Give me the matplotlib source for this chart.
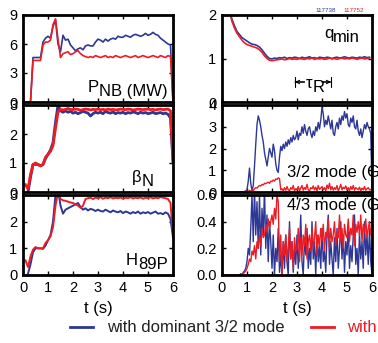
import numpy as np
import matplotlib
matplotlib.use('Agg')
import matplotlib.pyplot as plt

plt.rcParams['font.family'] = ['Liberation Sans', 'DejaVu Sans']

BLUE = '#2d3795'
RED = '#ed1c24'
nan = np.nan

# slow signals, 0.1 s steps from 0 to 6 s
t_slow = np.round(np.arange(61) * 0.1, 2)
# mode amplitudes, 0.05 s steps
t_fast = np.round(np.arange(121) * 0.05, 3)

pnb_blue = [0, 0, 0, 0, 4.6, 4.6, 4.6, 4.6, 6.2, 6.6,
            6.8, 6.6, 7.8, 8.5, 6.0, 5.2, 6.9, 6.4, 6.5, 5.9,
            5.6, 5.3, 5.5, 5.6, 5.4, 5.8, 5.9, 5.8, 5.8, 6.2,
            6.5, 6.4, 6.2, 6.5, 6.3, 6.5, 6.6, 6.5, 6.8, 6.7,
            6.7, 6.9, 6.8, 6.7, 6.9, 7.0, 6.9, 6.8, 6.9, 7.1,
            6.9, 7.0, 7.2, 7.0, 6.9, 6.6, 6.4, 6.2, 6.0, 5.9,
            0]
pnb_red = [0, 0, 0, 0, 4.3, 4.3, 4.3, 4.3, 5.9, 6.2,
           6.2, 6.4, 8.0, 8.6, 6.5, 4.6, 5.0, 5.1, 5.2, 4.9,
           5.0, 5.2, 5.3, 5.0, 4.8, 4.7, 4.6, 4.7, 4.6, 4.8,
           4.7, 4.6, 4.7, 4.8, 4.6, 4.7, 4.6, 4.8, 4.7, 4.6,
           4.7, 4.8, 4.7, 4.6, 4.7, 4.8, 4.6, 4.7, 4.8, 4.7,
           4.6, 4.7, 4.8, 4.7, 4.6, 4.8, 4.7, 4.6, 4.8, 4.7,
           0]

betan_blue = [nan, nan, 0.0, 0.5, 0.95, 0.95, 0.95, 0.9, 0.95, 1.15,
              1.3, 1.45, 1.7, 2.4, 3.0, 2.8, 2.75, 2.8, 2.75, 2.78,
              2.72, 2.75, 2.7, 2.74, 2.78, 2.75, 2.72, 2.62, 2.7, 2.75,
              2.72, 2.75, 2.7, 2.78, 2.74, 2.72, 2.76, 2.7, 2.74, 2.72,
              2.75, 2.7, 2.74, 2.72, 2.76, 2.74, 2.7, 2.75, 2.72, 2.74,
              2.7, 2.72, 2.75, 2.7, 2.72, 2.74, 2.7, 2.72, 2.68, 2.55,
              1.0]
betan_red = [nan, 0.25, 0.1, 0.6, 0.95, 1.0, 0.95, 0.9, 0.95, 1.2,
             1.3, 1.4, 1.6, 2.2, 2.75, 2.85, 2.83, 2.85, 2.88, 2.85,
             2.84, 2.86, 2.85, 2.82, 2.84, 2.86, 2.85, 2.83, 2.85, 2.84,
             2.86, 2.84, 2.85, 2.83, 2.86, 2.84, 2.85, 2.83, 2.84, 2.86,
             2.85, 2.84, 2.86, 2.85, 2.83, 2.84, 2.86, 2.85, 2.84, 2.85,
             2.86, 2.84, 2.85, 2.83, 2.85, 2.86, 2.84, 2.85, 2.86, 2.8,
             1.1]

h89_blue = [nan, nan, 0.05, 0.4, 0.85, 1.0, 1.0, 1.0, 0.98, 1.1,
            1.3, 1.5, 2.0, 3.0, 3.2, 2.6, 2.3, 2.45, 2.5, 2.55,
            2.6, 2.65, 2.7, 2.55, 2.45, 2.5, 2.42, 2.48, 2.45, 2.4,
            2.45, 2.4, 2.38, 2.45, 2.4, 2.35, 2.42, 2.38, 2.35, 2.4,
            2.32, 2.38, 2.35, 2.3, 2.36, 2.32, 2.38, 2.3, 2.35, 2.32,
            2.36, 2.3, 2.34, 2.38, 2.3, 2.32, 2.28, 2.35, 2.3, 2.1,
            1.4]
h89_red = [nan, 0.55, 0.3, 0.7, 0.95, 1.05, 1.0, 1.0, 1.0, 1.2,
           1.3, 1.45, 1.8, 2.6, 3.1, 2.85, 2.8, 2.78, 2.75, 2.72,
           2.7, 2.65, 2.6, 2.52, 2.6, 2.85, 2.88, 2.9, 2.85, 2.9,
           2.88, 2.92, 2.86, 2.9, 2.88, 2.92, 2.87, 2.9, 2.88, 2.91,
           2.86, 2.9, 2.88, 2.92, 2.87, 2.9, 2.88, 2.91, 2.86, 2.9,
           2.88, 2.92, 2.87, 2.9, 2.88, 2.92, 2.9, 2.88, 2.85, 2.7,
           1.5]

qmin_blue = [nan, nan, nan, 2.1, 1.9, 1.75, 1.62, 1.55, 1.48, 1.44,
             1.4, 1.36, 1.33, 1.32, 1.3, 1.26, 1.2, 1.12, 1.05, 1.0,
             0.99, 1.01, 1.0, 1.02, 1.01, 1.03, 1.0, 1.02, 1.01, 1.03,
             1.02, 1.0, 1.03, 1.01, 1.02, 1.04, 1.01, 1.02, 1.0, 1.03,
             1.02, 1.01, 1.03, 1.02, 1.0, 1.02, 1.03, 1.01, 1.02, 1.04,
             1.02, 1.01, 1.03, 1.02, 1.01, 1.03, 1.02, 1.04, 1.02, 1.03,
             nan]
qmin_red = [nan, nan, nan, 2.1, 1.85, 1.7, 1.58, 1.5, 1.42, 1.36,
            1.32, 1.3, 1.28, 1.26, 1.24, 1.2, 1.14, 1.06, 1.0, 0.96,
            0.95, 0.96, 0.97, 0.98, 0.99, 0.97, 0.98, 1.0, 0.98, 0.99,
            0.98, 1.0, 0.99, 0.98, 1.0, 0.99, 1.01, 0.98, 1.0, 0.99,
            1.0, 0.98, 0.99, 1.01, 0.99, 1.0, 0.98, 1.0, 1.01, 0.99,
            1.0, 0.99, 1.01, 1.0, 0.98, 1.0, 1.01, 0.99, 1.0, 1.01,
            nan]

m32_blue = [0, 0, 0, 0, 0, 0, 0, 0, 0, 0,
            0, 0, 0, 0, 0, 0, 0, 0, 0.02, 0.05,
            0.1, 0.5, 1.1, 0.4, 0.05, 0.3, 1.2, 2.2, 3.1, 3.5,
            3.3, 3.0, 2.6, 2.3, 1.8, 1.5, 1.2, 1.6, 2.0, 1.8,
            1.6, 2.2, 1.9, 1.3, 1.0, 0.9, 1.6, 2.1, 1.9, 2.2,
            2.0, 2.3, 2.1, 2.4, 2.2, 2.5, 2.3, 2.6, 2.4, 2.5,
            2.8, 2.4, 2.7, 2.6, 3.0, 2.7, 3.1, 2.8, 2.6, 2.9,
            3.0, 2.7, 2.5, 2.8, 2.6, 3.0, 2.8, 3.2, 2.9, 3.3,
            3.9, 3.6, 3.0, 3.3, 3.1, 3.5, 3.2, 2.9, 3.3, 2.7,
            2.6, 3.0, 3.2, 2.9, 3.4, 3.1, 3.5, 3.3, 3.7, 3.4,
            3.6, 3.1, 3.0, 3.4, 3.2, 3.5, 3.0, 2.9, 3.3, 2.8,
            2.6, 2.9, 2.5, 2.8, 3.1, 2.9, 3.2, 3.0, 2.9, 2.7,
            0.1]
m32_red = [0, 0, 0, 0, 0, 0, 0, 0, 0, 0,
           0, 0, 0, 0, 0, 0, 0, 0, 0.02, 0,
           0.05, 0, 0.08, 0.02, 0.1, 0.05, 0.15, 0.2, 0.18, 0.25,
           0.3, 0.28, 0.35, 0.32, 0.4, 0.38, 0.42, 0.45, 0.4, 0.5,
           0.48, 0.55, 0.5, 0.6, 0.58, 0.65, 0.62, 0.1, 0.15, 0.05,
           0.2, 0.08, 0.25, 0.1, 0.05, 0.2, 0.12, 0.3, 0.05, 0.15,
           0.1, 0.25, 0.05, 0.18, 0.3, 0.08, 0.2, 0.12, 0.35, 0.1,
           0.05, 0.2, 0.15, 0.28, 0.1, 0.22, 0.05, 0.3, 0.12, 0.18,
           0.25, 0.1, 0.2, 0.05, 0.32, 0.15, 0.4, 0.1, 0.25, 0.08,
           0.2, 0.12, 0.3, 0.05, 0.18, 0.35, 0.1, 0.22, 0.15, 0.28,
           0.1, 0.2, 0.05, 0.25, 0.12, 0.3, 0.08, 0.2, 0.15, 0.1,
           0.22, 0.05, 0.18, 0.1, 0.25, 0.08, 0.15, 0.2, 0.1, 0.12,
           0]

m43_blue = [0, 0, 0, 0, 0, 0, 0, 0, 0, 0,
            0, 0, 0, 0, 0, 0.01, 0, 0.02, 0.03, 0.05,
            0.1, 0.2, 0.15, 0.35, 0.6, 0.25, 0.65, 0.3, 0.55, 0.2,
            0.6, 0.15, 0.5, 0.3, 0.65, 0.2, 0.45, 0.1, 0.4, 0.25,
            0.05, 0.3, 0.0, 0.2, 0.1, 0.35, 0.02, 0.15, 0.0, 0.25,
            0.05, 0.3, 0.1, 0.0, 0.4, 0.12, 0.25, 0.02, 0.2, 0.08,
            0.3, 0.05, 0.22, 0.45, 0.1, 0.0, 0.28, 0.15, 0.35, 0.05,
            0.2, 0.08, 0.4, 0.12, 0.25, 0.0, 0.3, 0.1, 0.22, 0.05,
            0.35, 0.1, 0.18, 0.02, 0.3, 0.45, 0.08, 0.25, 0.12, 0.0,
            0.28, 0.1, 0.35, 0.05, 0.2, 0.4, 0.12, 0.3, 0.02, 0.25,
            0.15, 0.38, 0.05, 0.22, 0.1, 0.3, 0.45, 0.08, 0.2, 0.0,
            0.32, 0.12, 0.25, 0.05, 0.4, 0.15, 0.3, 0.08, 0.35, 0.1,
            0.0]
m43_red = [0, 0, 0, 0, 0, 0, 0, 0, 0, 0,
           0, 0, 0, 0, 0, 0, 0, 0.01, 0.02, 0.03,
           0.05, 0.08, 0.12, 0.1, 0.18, 0.15, 0.22, 0.12, 0.25, 0.2,
           0.3, 0.22, 0.35, 0.28, 0.3, 0.38, 0.32, 0.42, 0.35, 0.4,
           0.45, 0.38, 0.5, 0.42, 0.6, 0.55, 0.1, 0.3, 0.0, 0.25,
           0.15, 0.3, 0.1, 0.22, 0.35, 0.12, 0.25, 0.05, 0.28, 0.18,
           0.2, 0.35, 0.1, 0.28, 0.15, 0.3, 0.22, 0.38, 0.12, 0.25,
           0.3, 0.18, 0.35, 0.2, 0.28, 0.4, 0.15, 0.3, 0.22, 0.35,
           0.25, 0.38, 0.18, 0.32, 0.28, 0.42, 0.2, 0.35, 0.25, 0.3,
           0.4, 0.22, 0.32, 0.28, 0.45, 0.25, 0.35, 0.2, 0.38, 0.3,
           0.28, 0.42, 0.25, 0.35, 0.3, 0.45, 0.22, 0.38, 0.32, 0.4,
           0.3, 0.45, 0.25, 0.38, 0.32, 0.42, 0.28, 0.35, 0.4, 0.3,
           0.3]

fig = plt.figure(figsize=(3.78, 3.43), dpi=100)

xl, xr, w = 23 / 378, 222 / 378, 150 / 378
rows = [(1 - 102 / 343, 87 / 343), (1 - 192 / 343, 87 / 343), (1 - 275 / 343, 80 / 343)]


def make_ax(x0, row, ylim, yticks, fmt=None, bottom=False):
    y0, h = rows[row]
    ax = fig.add_axes([x0, y0, w, h])
    ax.set_xlim(0, 6)
    ax.set_ylim(*ylim)
    ax.set_xticks(range(7))
    ax.set_yticks(yticks)
    if fmt:
        ax.set_yticklabels([fmt % v for v in yticks])
    ax.tick_params(direction='in', top=True, right=True, length=3, width=1,
                   labelsize=10.5, pad=4, labelbottom=bottom)
    for s in ax.spines.values():
        s.set_linewidth(2)
    return ax


def label(ax, x, y, main, sub):
    # subscripts in the original are full size, just dropped a little
    t = ax.text(x, y, main, fontsize=12, va='baseline')
    ax.annotate(sub, xy=(1, 0), xycoords=t, xytext=(0, -3),
                textcoords='offset points', fontsize=12, va='bottom')


ax = make_ax(xl, 0, (0, 9), [0, 3, 6, 9])
ax.plot(t_slow, pnb_blue, color=BLUE, lw=1.2)
ax.plot(t_slow, pnb_red, color=RED, lw=1.2)
label(ax, 2.6, 1.05, 'P', 'NB (MW)')

ax = make_ax(xl, 1, (0, 3), [0, 1, 2, 3])
ax.plot(t_slow, betan_blue, color=BLUE, lw=2)
ax.plot(t_slow, betan_red, color=RED, lw=2)
label(ax, 4.36, 0.34, '\u03b2', 'N')

ax = make_ax(xl, 2, (0, 3), [0, 1, 2, 3], bottom=True)
ax.plot(t_slow, h89_blue, color=BLUE, lw=1.4)
ax.plot(t_slow, h89_red, color=RED, lw=1.4)
label(ax, 4.12, 0.37, 'H', '89P')
ax.set_xlabel('t (s)', fontsize=12, labelpad=5)

ax = make_ax(xr, 0, (0, 2), [0, 1, 2])
ax.plot(t_slow, qmin_blue, color=BLUE, lw=1.2)
ax.plot(t_slow, qmin_red, color=RED, lw=1.2)
label(ax, 4.08, 1.47, 'q', 'min')
for x_end, x_start in [(2.92, 3.3), (4.36, 4.0)]:
    ax.annotate('', xy=(x_end, 0.46), xytext=(x_start, 0.46),
                arrowprops=dict(arrowstyle='->', lw=0.8, color='black',
                                shrinkA=0, shrinkB=0, mutation_scale=6))
    ax.annotate('', xy=(x_end, 0.46), xytext=(x_start, 0.46),
                arrowprops=dict(arrowstyle='|-|, widthA=0, widthB=0.35', lw=0.8,
                                color='black', shrinkA=0, shrinkB=0))
label(ax, 3.36, 0.32, '\u03c4', 'R')
ax.text(0.62, 1.03, '117738', color=BLUE, fontsize=4.5, transform=ax.transAxes)
ax.text(0.81, 1.03, '117752', color=RED, fontsize=4.5, transform=ax.transAxes)

ax = make_ax(xr, 1, (0, 4), [0, 1, 2, 3, 4])
ax.plot(t_fast, m32_blue, color=BLUE, lw=1)
ax.plot(t_fast, m32_red, color=RED, lw=1)
ax.text(2.6, 0.7, '3/2 mode (G)', fontsize=12, va='baseline')

ax = make_ax(xr, 2, (0, 0.6), [0, 0.2, 0.4, 0.6], fmt='%.1f', bottom=True)
ax.plot(t_fast, m43_blue, color=BLUE, lw=1)
ax.plot(t_fast, m43_red, color=RED, lw=1)
ax.text(2.6, 0.49, '4/3 mode (G)', fontsize=12, va='baseline')
ax.set_xlabel('t (s)', fontsize=12, labelpad=5)

handles = [plt.Line2D([], [], color=BLUE, lw=2), plt.Line2D([], [], color=RED, lw=2)]
leg = fig.legend(handles, ['with dominant 3/2 mode', 'with dominant 4/3 mode'],
                 loc='center left', bbox_to_anchor=(70 / 378, 15 / 343), ncol=2,
                 frameon=False, fontsize=12, handlelength=1.4, handletextpad=0.8,
                 columnspacing=1.6, borderaxespad=0, borderpad=0)
leg.get_texts()[0].set_color('#222222')
leg.get_texts()[1].set_color(RED)

fig.savefig('out.png', dpi=100)
